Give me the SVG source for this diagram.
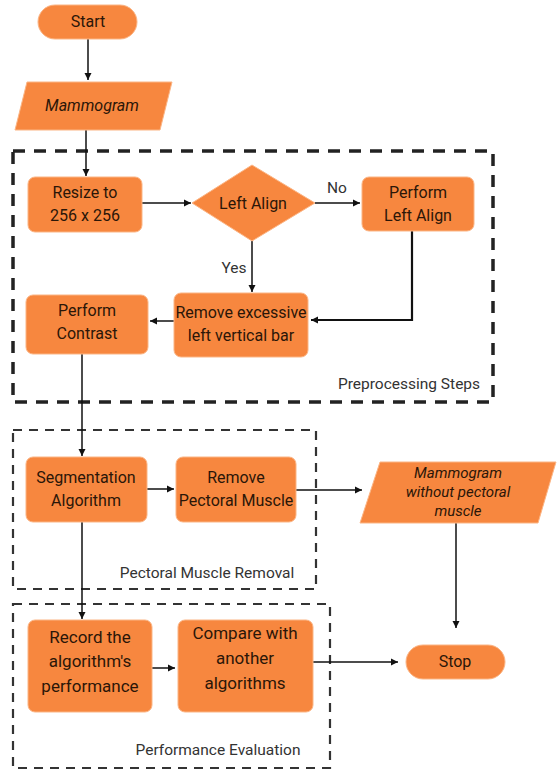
<svg xmlns="http://www.w3.org/2000/svg" width="558" height="772" viewBox="0 0 558 772">
<style>
.n{fill:#F7873F;stroke:#FBB585;stroke-width:1}
.t{font-family:Roboto,"Liberation Sans",sans-serif;font-size:16px;fill:#2b1608;text-anchor:middle}
.i{font-style:italic;font-size:15px}
.l{font-family:Roboto,"Liberation Sans",sans-serif;font-size:15.5px;fill:#333;text-anchor:middle}
.c{fill:none;stroke:#111;stroke-width:1.5}
.cb{fill:none;stroke:#111;stroke-width:2.2}
.g1{fill:none;stroke:#222;stroke-width:3.5;stroke-dasharray:12 9}
.g2{fill:none;stroke:#333;stroke-width:2.2;stroke-dasharray:9 7}
</style>
<defs>
<marker id="ah" markerUnits="userSpaceOnUse" markerWidth="8" markerHeight="8" refX="7" refY="4" orient="auto">
<path d="M0,0.5 L7,4 L0,7.5 z" fill="#111"/>
</marker>
</defs>
<g id="groups">
<rect class="g1" x="13" y="151" width="480" height="251"/>
<text class="l" x="409" y="389">Preprocessing Steps</text>
<rect class="g2" x="13" y="430" width="303" height="159"/>
<text class="l" x="207" y="578">Pectoral Muscle Removal</text>
<rect class="g2" x="13" y="604" width="317" height="164"/>
<text class="l" x="218" y="755">Performance Evaluation</text>
</g>
<g id="connectors">
<line class="c" x1="88" y1="39" x2="88" y2="80" marker-end="url(#ah)"/>
<line class="c" x1="86" y1="130" x2="86" y2="176" marker-end="url(#ah)"/>
<line class="c" x1="142" y1="203" x2="191" y2="203" marker-end="url(#ah)"/>
<line class="c" x1="315" y1="203" x2="360" y2="203" marker-end="url(#ah)"/>
<text class="l" x="337" y="193">No</text>
<line class="c" x1="252" y1="241" x2="252" y2="292" marker-end="url(#ah)"/>
<text class="l" x="234" y="273">Yes</text>
<polyline class="cb" points="412,231 412,320 311,320" marker-end="url(#ah)"/>
<line class="c" x1="174" y1="321" x2="150" y2="321" marker-end="url(#ah)"/>
<line class="c" x1="82" y1="354" x2="82" y2="456" marker-end="url(#ah)"/>
<line class="c" x1="147" y1="489" x2="174" y2="489" marker-end="url(#ah)"/>
<line class="c" x1="296" y1="490" x2="362" y2="490" marker-end="url(#ah)"/>
<line class="c" x1="456" y1="523" x2="456" y2="628" marker-end="url(#ah)"/>
<line class="c" x1="82" y1="522" x2="82" y2="619" marker-end="url(#ah)"/>
<line class="c" x1="152" y1="668" x2="175" y2="668" marker-end="url(#ah)"/>
<line class="c" x1="313" y1="662" x2="398" y2="662" marker-end="url(#ah)"/>
</g>
<g id="start"><rect class="n" x="38" y="5" width="99" height="34" rx="17"/><text class="t" x="88" y="27">Start</text></g>
<g id="mammogram"><polygon class="n" points="27,82 172,82 160,130 15,130"/><text class="t i" x="92" y="111" style="font-size:16px">Mammogram</text></g>
<g id="resize"><rect class="n" x="28" y="177" width="114" height="55" rx="7"/><text class="t" x="85" y="198">Resize to</text><text class="t" x="85" y="221">256 x 256</text></g>
<g id="leftalign"><polygon class="n" points="252,165 315,203 252,241 192,203"/><text class="t" x="253" y="209">Left Align</text></g>
<g id="performleftalign"><rect class="n" x="362" y="177" width="112" height="54" rx="7"/><text class="t" x="418" y="198">Perform</text><text class="t" x="418" y="221">Left Align</text></g>
<g id="removebar"><rect class="n" x="174" y="293" width="134" height="64" rx="7"/><text class="t" x="241" y="318">Remove excessive</text><text class="t" x="241" y="341">left vertical bar</text></g>
<g id="contrast"><rect class="n" x="26" y="295" width="122" height="59" rx="7"/><text class="t" x="87" y="316">Perform</text><text class="t" x="87" y="339">Contrast</text></g>
<g id="segmentation"><rect class="n" x="26" y="457" width="121" height="65" rx="7"/><text class="t" x="86" y="483">Segmentation</text><text class="t" x="86" y="506">Algorithm</text></g>
<g id="removepectoral"><rect class="n" x="176" y="457" width="120" height="65" rx="7"/><text class="t" x="236" y="483">Remove</text><text class="t" x="236" y="506">Pectoral Muscle</text></g>
<g id="mammogramout"><polygon class="n" points="380,462 556,462 538,523 360,523"/><text class="t i" x="458" y="478">Mammogram</text><text class="t i" x="458" y="497">without pectoral</text><text class="t i" x="458" y="516">muscle</text></g>
<g id="record"><rect class="n" x="28" y="620" width="124" height="92" rx="7"/><text class="t" x="90" y="643" style="font-size:17px">Record  the</text><text class="t" x="90" y="667" style="font-size:17px">algorithm's</text><text class="t" x="90" y="692" style="font-size:17px">performance</text></g>
<g id="compare"><rect class="n" x="178" y="620" width="135" height="92" rx="7"/><text class="t" x="245" y="639" style="font-size:17px">Compare with</text><text class="t" x="245" y="664" style="font-size:17px">another</text><text class="t" x="245" y="689" style="font-size:17px">algorithms</text></g>
<g id="stop"><rect class="n" x="406" y="645" width="99" height="34" rx="17"/><text class="t" x="455" y="667">Stop</text></g>
</svg>
